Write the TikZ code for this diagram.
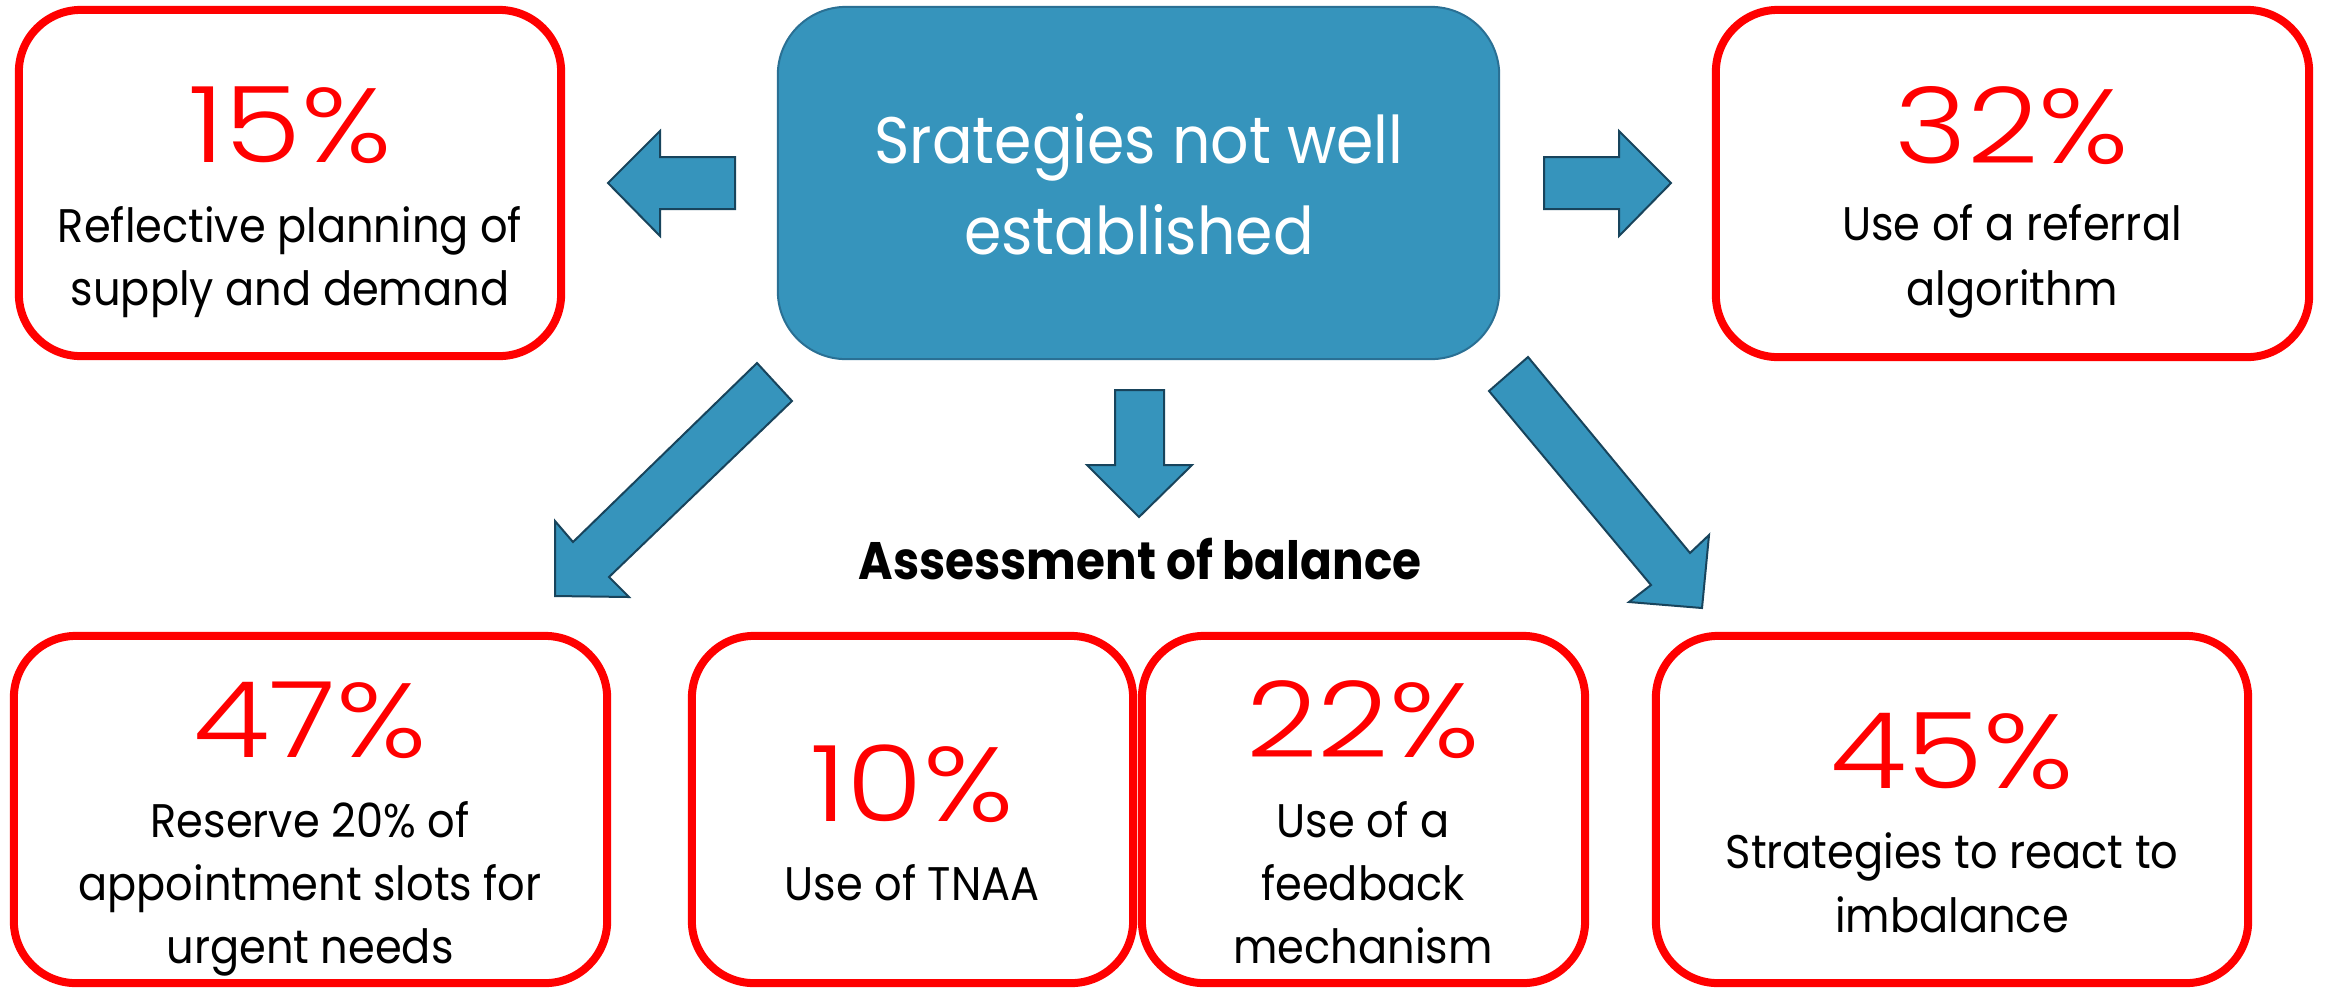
\documentclass[tikz,border=0pt]{standalone}
\usepackage{fontspec}
\setmainfont[FakeStretch=0.915, BoldFeatures={FakeStretch=0.89}]{Poppins}
\newfontfamily\pctfont[FakeStretch=1.18]{Poppins Light}
\definecolor{boxred}{RGB}{255,0,0}
\definecolor{blfill}{RGB}{54,148,188}
\definecolor{blline}{RGB}{42,112,148}
\definecolor{arline}{RGB}{24,68,92}
\begin{document}
\begin{tikzpicture}[x=0.01cm,y=-0.01cm,
  redbox/.style={draw=boxred, line width=0.08cm, rounded corners=0.62cm, fill=white, inner sep=0pt},
  bluebox/.style={draw=blline, line width=0.02cm, fill=blfill, rounded corners=0.68cm, inner sep=0pt},
  blockarrow/.style={draw=arline, line width=0.02cm, fill=blfill, line join=miter},
  pct/.style={anchor=base, inner sep=0pt, text=boxred, font=\pctfont\fontsize{30}{30}\selectfont},
  body/.style={anchor=base, inner sep=0pt, font=\fontsize{13.4}{16}\selectfont},
  btext/.style={anchor=base, inner sep=0pt, text=white, font=\fontsize{18.7}{22}\selectfont},
  headtext/.style={anchor=base, inner sep=0pt, font=\bfseries\fontsize{15}{18}\selectfont}
]
\useasboundingbox (0,0) rectangle (2325,990);
% boxes
\node[redbox, minimum width=5.42cm, minimum height=3.46cm] (tl) at (290,183) {};
\node[bluebox, minimum width=7.21cm, minimum height=3.52cm] (ctr) at (1138.5,183) {};
\node[redbox, minimum width=5.93cm, minimum height=3.47cm] (tr) at (2012.5,183.5) {};
\node[redbox, minimum width=5.93cm, minimum height=3.47cm] (bl) at (310.5,809.5) {};
\node[redbox, minimum width=4.41cm, minimum height=3.47cm] (m1) at (912.5,809.5) {};
\node[redbox, minimum width=4.43cm, minimum height=3.47cm] (m2) at (1363.5,809.5) {};
\node[redbox, minimum width=5.92cm, minimum height=3.47cm] (br) at (1952,809.5) {};
% texts
\node[btext] (c1) at (1139,163) {Srategies not well};
\node[btext] (c2) at (1139,254) {established};
\node[pct] (tlp) at (290,162) {15\%};
\node[body] (tl1) at (290,242) {Reflective planning of};
\node[body] (tl2) at (290,305) {supply and demand};
\node[pct] (trp) at (2012,163) {32\%};
\node[body] (tr1) at (2012,240) {Use of a referral};
\node[body] (tr2) at (2012,305) {algorithm};
\node[headtext] (assess) at (1140,579) {Assessment of balance};
\node[pct] (blp) at (310,757) {47\%};
\node[body] (bl1) at (310,837) {Reserve 20\% of};
\node[body] (bl2) at (310,900) {appointment slots for};
\node[body] (bl3) at (310,963) {urgent needs};
\node[pct] (m1p) at (912,821) {10\%};
\node[body] (m11) at (912,900) {Use of TNAA};
\node[pct] (m2p) at (1363,757) {22\%};
\node[body] (m21) at (1363,837) {Use of a};
\node[body] (m22) at (1363,900) {feedback};
\node[body] (m23) at (1363,963) {mechanism};
\node[pct] (brp) at (1952,788) {45\%};
\node[body] (br1) at (1952,868) {Strategies to react to};
\node[body] (br2) at (1952,932) {imbalance};
% block arrows
\draw[blockarrow] (735,157) -- (660,157) -- (660,131) -- (608,183) -- (660,236) -- (660,209) -- (735,209) -- cycle;
\draw[blockarrow] (1544,157) -- (1619,157) -- (1619,131) -- (1671,183) -- (1619,236) -- (1619,209) -- (1544,209) -- cycle;
\draw[blockarrow] (1115,390) -- (1115,465) -- (1087,465) -- (1139,517) -- (1192,465) -- (1164,465) -- (1164,390) -- cycle;
\draw[blockarrow] (757,363) -- (573,542) -- (555,521) -- (555,596) -- (629,597) -- (609,577) -- (792,401) -- cycle;
\draw[blockarrow] (1528,357) -- (1690,553) -- (1709,535) -- (1702,608) -- (1629,602) -- (1651,585) -- (1489,391) -- cycle;
\end{tikzpicture}
\end{document}
